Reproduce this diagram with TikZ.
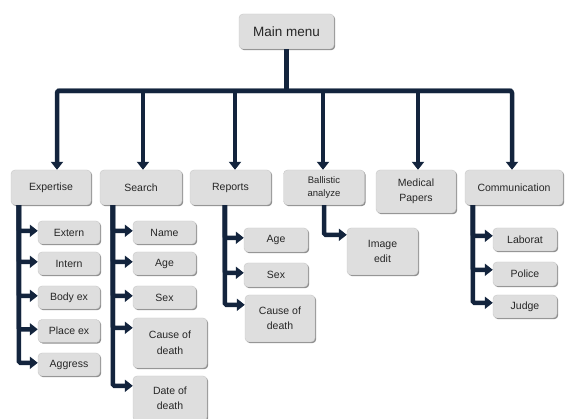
\documentclass[tikz,border=0pt]{standalone}
\usepackage{fontspec}
\setmainfont{Liberation Sans}
\usepackage{tikz}
\usetikzlibrary{positioning,arrows.meta,shadows}

\definecolor{navy}{HTML}{13243D}
\definecolor{boxgray}{HTML}{DEDEDE}

\begin{document}
\begin{tikzpicture}[
  x=1pt, y=-1pt,
  font=\fontsize{10.5}{15.5}\selectfont,
  box/.style={
    rectangle,
    rounded corners=4pt,
    draw=black!22,
    fill=boxgray,
    line width=0.4pt,
    text=black!85,
    align=center,
    inner sep=1pt,
    drop shadow={shadow xshift=1.2pt, shadow yshift=-1.2pt, fill=black!55, opacity=0.8}
  },
  groupbox/.style={box, minimum height=35pt},
  itembox/.style={box, minimum width=63pt, minimum height=23pt},
  link/.style={line width=4.5pt, draw=navy},
  arrow/.style={link, -{Triangle[length=8pt, width=12pt]}},
  branch/.style={arrow, rounded corners=1.5pt}
]
\useasboundingbox (0,0) rectangle (565,419);

% --- Main menu ---
\node[box, minimum width=95pt, minimum height=35pt, font=\fontsize{13.5}{15}\selectfont] (menu) at (286.5,31.5) {Main menu};

% --- Groups ---
\node[groupbox, minimum width=80pt] (exp) at (51,187.5) {Expertise};
\node[groupbox, minimum width=82pt] (sea) at (141,187.5) {Search};
\node[groupbox, minimum width=81pt] (rep) at (230.5,187.5) {Reports};
\node[groupbox, minimum width=81pt, font=\fontsize{9.5}{12.5}\selectfont] (bal) at (324,187.5) {Ballistic\\analyze};
\node[groupbox, minimum width=80pt, minimum height=43pt] (med) at (416,191.5) {Medical\\Papers};
\node[groupbox, minimum width=98pt] (com) at (514,187.5) {Communication};

% --- Expertise items ---
\node[itembox, minimum width=62pt] (ext) at (69,232.5) {Extern};
\node[itembox, minimum width=62pt] (int) at (69,263.5) {Intern};
\node[itembox, minimum width=62pt] (bod) at (69,297.5) {Body ex};
\node[itembox, minimum width=62pt] (pla) at (69,331) {Place ex};
\node[itembox, minimum width=62pt] (agg) at (69,364.5) {Aggress};

% --- Search items ---
\node[itembox] (nam) at (164.5,232.5) {Name};
\node[itembox] (sag) at (164.5,263.5) {Age};
\node[itembox] (ssx) at (164.5,297.5) {Sex};
\node[itembox, minimum width=74pt, minimum height=50pt] (scd) at (170,343) {Cause of\\death};
\node[itembox, minimum width=74pt, minimum height=45pt] (sdd) at (170,398.5) {Date of\\death};

% --- Reports items ---
\node[itembox, minimum width=64pt, minimum height=24pt] (rag) at (276,240) {Age};
\node[itembox, minimum width=64pt, minimum height=24pt] (rsx) at (276,275) {Sex};
\node[itembox, minimum width=70pt, minimum height=47pt] (rcd) at (280,318.5) {Cause of\\death};

% --- Ballistic item ---
\node[itembox, minimum width=71pt, minimum height=47pt] (img) at (382.5,251.5) {Image\\edit};

% --- Communication items ---
\node[itembox, minimum width=64pt] (lab) at (525,239.5) {Laborat};
\node[itembox, minimum width=64pt, minimum height=24pt] (pol) at (525,274) {Police};
\node[itembox, minimum width=64pt] (jud) at (525,306.5) {Judge};

% --- Bar from main menu to groups ---
\coordinate (d1) at (57,91);
\coordinate (d2) at (143,91);
\coordinate (d3) at (235,91);
\coordinate (d4) at (323,91);
\coordinate (d5) at (418,91);
\coordinate (d6) at (512,91);

\draw[link] (menu.south) -- (menu.south |- d1);
\draw[arrow, rounded corners=2pt] (d6) -- (d1) -- (d1 |- exp.north);
\draw[arrow, rounded corners=2pt] (d1) -- (d6) -- (d6 |- com.north);
\foreach \d/\n in {d2/sea, d3/rep, d4/bal, d5/med}
  \draw[arrow] (\d) -- (\d |- \n.north);

% --- Spines from groups to items ---
\coordinate (expS) at ([xshift=8pt]exp.south west);
\coordinate (seaS) at ([xshift=13pt]sea.south west);
\coordinate (repS) at ([xshift=35pt]rep.south west);
\coordinate (balS) at (bal.south);
\coordinate (comS) at ([xshift=8pt]com.south west);

\foreach \n in {ext, int, bod, pla, agg}
  \draw[branch] (expS) |- ([yshift=-10pt]\n.north west);
\foreach \n in {nam, sag, ssx, scd, sdd}
  \draw[branch] (seaS) |- ([yshift=-10pt]\n.north west);
\foreach \n in {rag, rsx, rcd}
  \draw[branch] (repS) |- ([yshift=-10pt]\n.north west);
\draw[branch] (balS) |- ([yshift=-7pt]img.north west);
\foreach \n in {lab, pol, jud}
  \draw[branch] (comS) |- ([yshift=-8pt]\n.north west);

\end{tikzpicture}
\end{document}
